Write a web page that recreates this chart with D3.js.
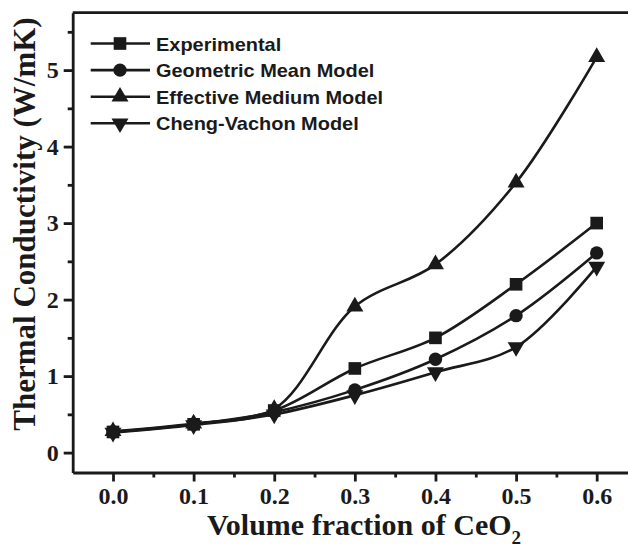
<!DOCTYPE html>
<html>
<head>
<meta charset="UTF-8">
<title>Thermal conductivity vs volume fraction of CeO2</title>
<script src="https://cdn.jsdelivr.net/npm/d3@7"></script>
<style>
body { margin: 0; background: #fff; }
svg { display: block; }
.axis path, .axis line { stroke: #1a1a1a; stroke-width: 2.8px; }
.axis text { font-family: "Liberation Serif", "Times New Roman", serif; font-weight: bold; font-size: 24px; fill: #1a1a1a; }
.title { font-family: "Liberation Serif", "Times New Roman", serif; font-weight: bold; font-size: 30px; fill: #1a1a1a; }
.legend text { font-family: "Liberation Sans", Arial, sans-serif; font-weight: bold; font-size: 19px; fill: #1a1a1a; }
.curve { fill: none; stroke: #1a1a1a; stroke-width: 2.6px; }
.marker { fill: #1a1a1a; }
</style>
</head>
<body>
<svg id="chart" width="628" height="547"></svg>
<script>
// values
var fractions = [0.0, 0.1, 0.2, 0.3, 0.4, 0.5, 0.6];
var experimental = [0.27, 0.37, 0.55, 1.10, 1.50, 2.20, 3.00];
var geometricMean = [0.27, 0.37, 0.53, 0.82, 1.22, 1.79, 2.61];
var effectiveMedium = [0.28, 0.38, 0.57, 1.91, 2.46, 3.53, 5.17];
var chengVachon = [0.26, 0.36, 0.50, 0.75, 1.05, 1.38, 2.43];
var seriesNames = ["Experimental", "Geometric Mean Model", "Effective Medium Model", "Cheng-Vachon Model"];
var xTicks = [0.0, 0.1, 0.2, 0.3, 0.4, 0.5, 0.6];
var yTicks = [0, 1, 2, 3, 4, 5];

(function(){
  var series = [
    {name: seriesNames[0], values: experimental, symbol: d3.symbolSquare, size: 160, rot: 0},
    {name: seriesNames[1], values: geometricMean, symbol: d3.symbolCircle, size: 140, rot: 0},
    {name: seriesNames[2], values: effectiveMedium, symbol: d3.symbolTriangle, size: 125, rot: 0},
    {name: seriesNames[3], values: chengVachon, symbol: d3.symbolTriangle, size: 125, rot: 180}
  ];

  var svg = d3.select("#chart"),
    mLeft = 72.7, mRight = 637, mTop = 12.7, mBottom = 472.5;

  var x = d3.scaleLinear().domain([-0.05, 0.65]).range([mLeft, mRight]);
  var y = d3.scaleLinear().domain([-0.26, 5.75]).range([mBottom, mTop]);

  // frame top line
  svg.append("line")
    .attr("x1", mLeft).attr("x2", mRight)
    .attr("y1", mTop).attr("y2", mTop)
    .attr("stroke", "#1a1a1a").attr("stroke-width", 2.8);

  // minor ticks
  svg.append("g")
    .attr("class", "axis")
    .attr("transform", "translate(0," + mBottom + ")")
    .call(d3.axisBottom(x).tickValues([0.05, 0.15, 0.25, 0.35, 0.45, 0.55]).tickSize(5).tickFormat(""))
    .select(".domain").remove();
  svg.append("g")
    .attr("class", "axis")
    .attr("transform", "translate(" + mLeft + ",0)")
    .call(d3.axisLeft(y).tickValues([0.5, 1.5, 2.5, 3.5, 4.5, 5.5]).tickSize(5).tickFormat(""))
    .select(".domain").remove();

  // major ticks
  svg.append("g")
    .attr("class", "axis")
    .attr("transform", "translate(0," + mBottom + ")")
    .call(d3.axisBottom(x).tickValues(xTicks).tickSize(9).tickSizeOuter(0).tickPadding(5).tickFormat(d3.format(".1f")));
  svg.append("g")
    .attr("class", "axis")
    .attr("transform", "translate(" + mLeft + ",0)")
    .call(d3.axisLeft(y).tickValues(yTicks).tickSize(9).tickSizeOuter(0).tickPadding(5).tickFormat(d3.format("d")));

  // curves
  var line = d3.line()
    .curve(d3.curveCatmullRom)
    .x(function(d, i){ return x(fractions[i]); })
    .y(function(d){ return y(d); });

  series.forEach(function(s){
    svg.append("path").attr("class", "curve").attr("d", line(s.values));
  });
  series.forEach(function(s){
    svg.append("g").selectAll("path")
      .data(s.values)
      .join("path")
      .attr("class", "marker")
      .attr("transform", function(d, i){ return "translate(" + x(fractions[i]) + "," + y(d) + ") rotate(" + s.rot + ")"; })
      .attr("d", d3.symbol().type(s.symbol).size(s.size));
  });

  // legend
  var legend = svg.append("g").attr("class", "legend");
  series.forEach(function(s, i){
    var ly = 43.5 + i * 26.6;
    var g = legend.append("g").attr("transform", "translate(0," + ly + ")");
    g.append("line").attr("x1", 90.7).attr("x2", 150).attr("y1", 0).attr("y2", 0)
      .attr("stroke", "#1a1a1a").attr("stroke-width", 2.6);
    g.append("path").attr("class", "marker")
      .attr("transform", "translate(120,0) rotate(" + s.rot + ")")
      .attr("d", d3.symbol().type(s.symbol).size(s.size));
    g.append("text")
      .attr("transform", "translate(156,7) scale(1.05,1)")
      .text(s.name);
  });

  // axis titles
  svg.append("text")
    .attr("class", "title")
    .attr("transform", "translate(35,224) rotate(-90)")
    .attr("text-anchor", "middle")
    .style("font-size", "31px")
    .text("Thermal Conductivity (W/mK)");

  var xt = svg.append("text")
    .attr("class", "title")
    .attr("x", 364).attr("y", 535)
    .attr("text-anchor", "middle");
  xt.append("tspan").text("Volume fraction of CeO");
  xt.append("tspan").attr("dy", 9).attr("font-size", 19).text("2");
})();
</script>
</body>
</html>
